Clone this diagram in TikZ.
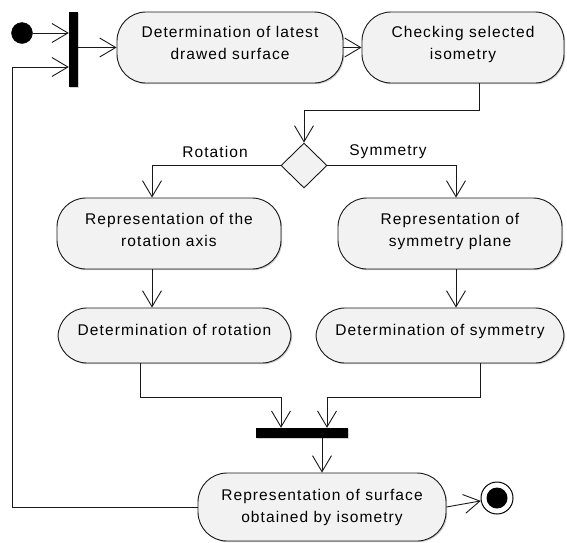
\documentclass[tikz,border=0pt]{standalone}
\usepackage{fontspec}
\setmainfont{Liberation Sans}
\usetikzlibrary{arrows.meta,shapes.geometric,shadows,calc}
\begin{document}
\begin{tikzpicture}[x=1pt,y=-1pt,
  font=\fontsize{15.5}{22}\selectfont\addfontfeature{LetterSpace=7},
  act/.style={draw=black!90, line width=0.9pt, fill=black!5, rounded corners=29pt,
    align=center, inner sep=0pt,
    drop shadow={shadow xshift=1.2pt, shadow yshift=-1.2pt, opacity=0.35, fill=black!60}},
  flow/.style={draw=black!90, line width=0.9pt,
    -{Straight Barb[length=16pt,width=19pt,line width=0.9pt]}},
  syncbar/.style={fill=black, inner sep=0pt,
    drop shadow={shadow xshift=1.2pt, shadow yshift=-1.2pt, opacity=0.35}}]
\useasboundingbox (0,0) rectangle (567,542);

% start and end markers
\node[circle, fill=black, draw=black, inner sep=0pt, minimum size=21pt] (start) at (22,33) {};
\node[circle, draw=black, line width=1pt, fill=white, inner sep=0pt, minimum size=32pt] (stop) at (497,498) {};
\node[circle, fill=black, inner sep=0pt, minimum size=21pt] at (stop.center) {};

% fork and join bars
\node[syncbar, minimum width=9pt, minimum height=75pt] (fork) at (73.5,49.5) {};
\node[syncbar, minimum width=92pt, minimum height=10pt] (join) at (302,433) {};

% activities (text sits a little above the box centre)
\node[act, minimum width=226pt, minimum height=71pt, text depth=10pt] (b1) at (230,47.5)
  {Determination of latest\\drawed surface};
\node[act, minimum width=202pt, minimum height=71pt, text depth=10pt] (b2) at (463,47.5)
  {Checking selected\\isometry};
\node[act, minimum width=224pt, minimum height=71pt, text depth=7.5pt] (b3) at (169,233.5)
  {Representation of the\\rotation axis};
\node[act, minimum width=224pt, minimum height=71pt, text depth=7.5pt] (b4) at (450,233.5)
  {Representation of\\symmetry plane};
\node[act, minimum width=233pt, minimum height=55pt, text depth=12pt] (b5) at (174.5,335.5)
  {Determination of rotation};
\node[act, minimum width=248pt, minimum height=55pt, text depth=12pt] (b6) at (440,335.5)
  {Determination of symmetry};
\node[act, minimum width=248pt, minimum height=68pt] (b7) at (322,507)
  {Representation of surface\\obtained by isometry};

% decision
\node[diamond, draw=black!90, line width=0.9pt, fill=black!5, inner sep=0pt,
  minimum width=46pt, minimum height=45pt] (dec) at (304,165.5) {};
\node (lrot) at (215,152) {Rotation};
\node (lsym) at (388,152) {Symmetry};

% routing columns
\coordinate (cl) at (152,0);
\coordinate (cr) at (456,0);
\coordinate (xb2) at (479,0);
\coordinate (xb5) at (140,0);
\coordinate (xb6) at (480,0);
\coordinate (xj1) at (281,0);
\coordinate (xj2) at (327,0);
\coordinate (loopx) at (12,67);

% connectors
\draw[flow] (start) -- (start.east -| fork.west);
\draw[flow] (fork.east |- b1.west) -- (b1.west);
\draw[flow] (b1.east) -- (b2.west);
\draw[flow] (b2.south -| xb2) |- (0,110 -| dec.north) -- (dec.north);
\draw[flow] (dec.west) -| (b3.north -| cl);
\draw[flow] (dec.east) -| (b4.north -| cr);
\draw[flow] (b3.south -| cl) -- (b5.north -| cl);
\draw[flow] (b4.south -| cr) -- (b6.north -| cr);
\draw[flow] (b5.south -| xb5) |- (xj1 |- 0,397) -- (join.north -| xj1);
\draw[flow] (b6.south -| xb6) |- (xj2 |- 0,397) -- (join.north -| xj2);
\draw[flow] (join.south -| b7.north) -- (b7.north);
\draw[flow] (b7.east) -- (stop);
\draw[flow] (b7.west) -| (loopx) -- (loopx -| fork.west);
\end{tikzpicture}
\end{document}
